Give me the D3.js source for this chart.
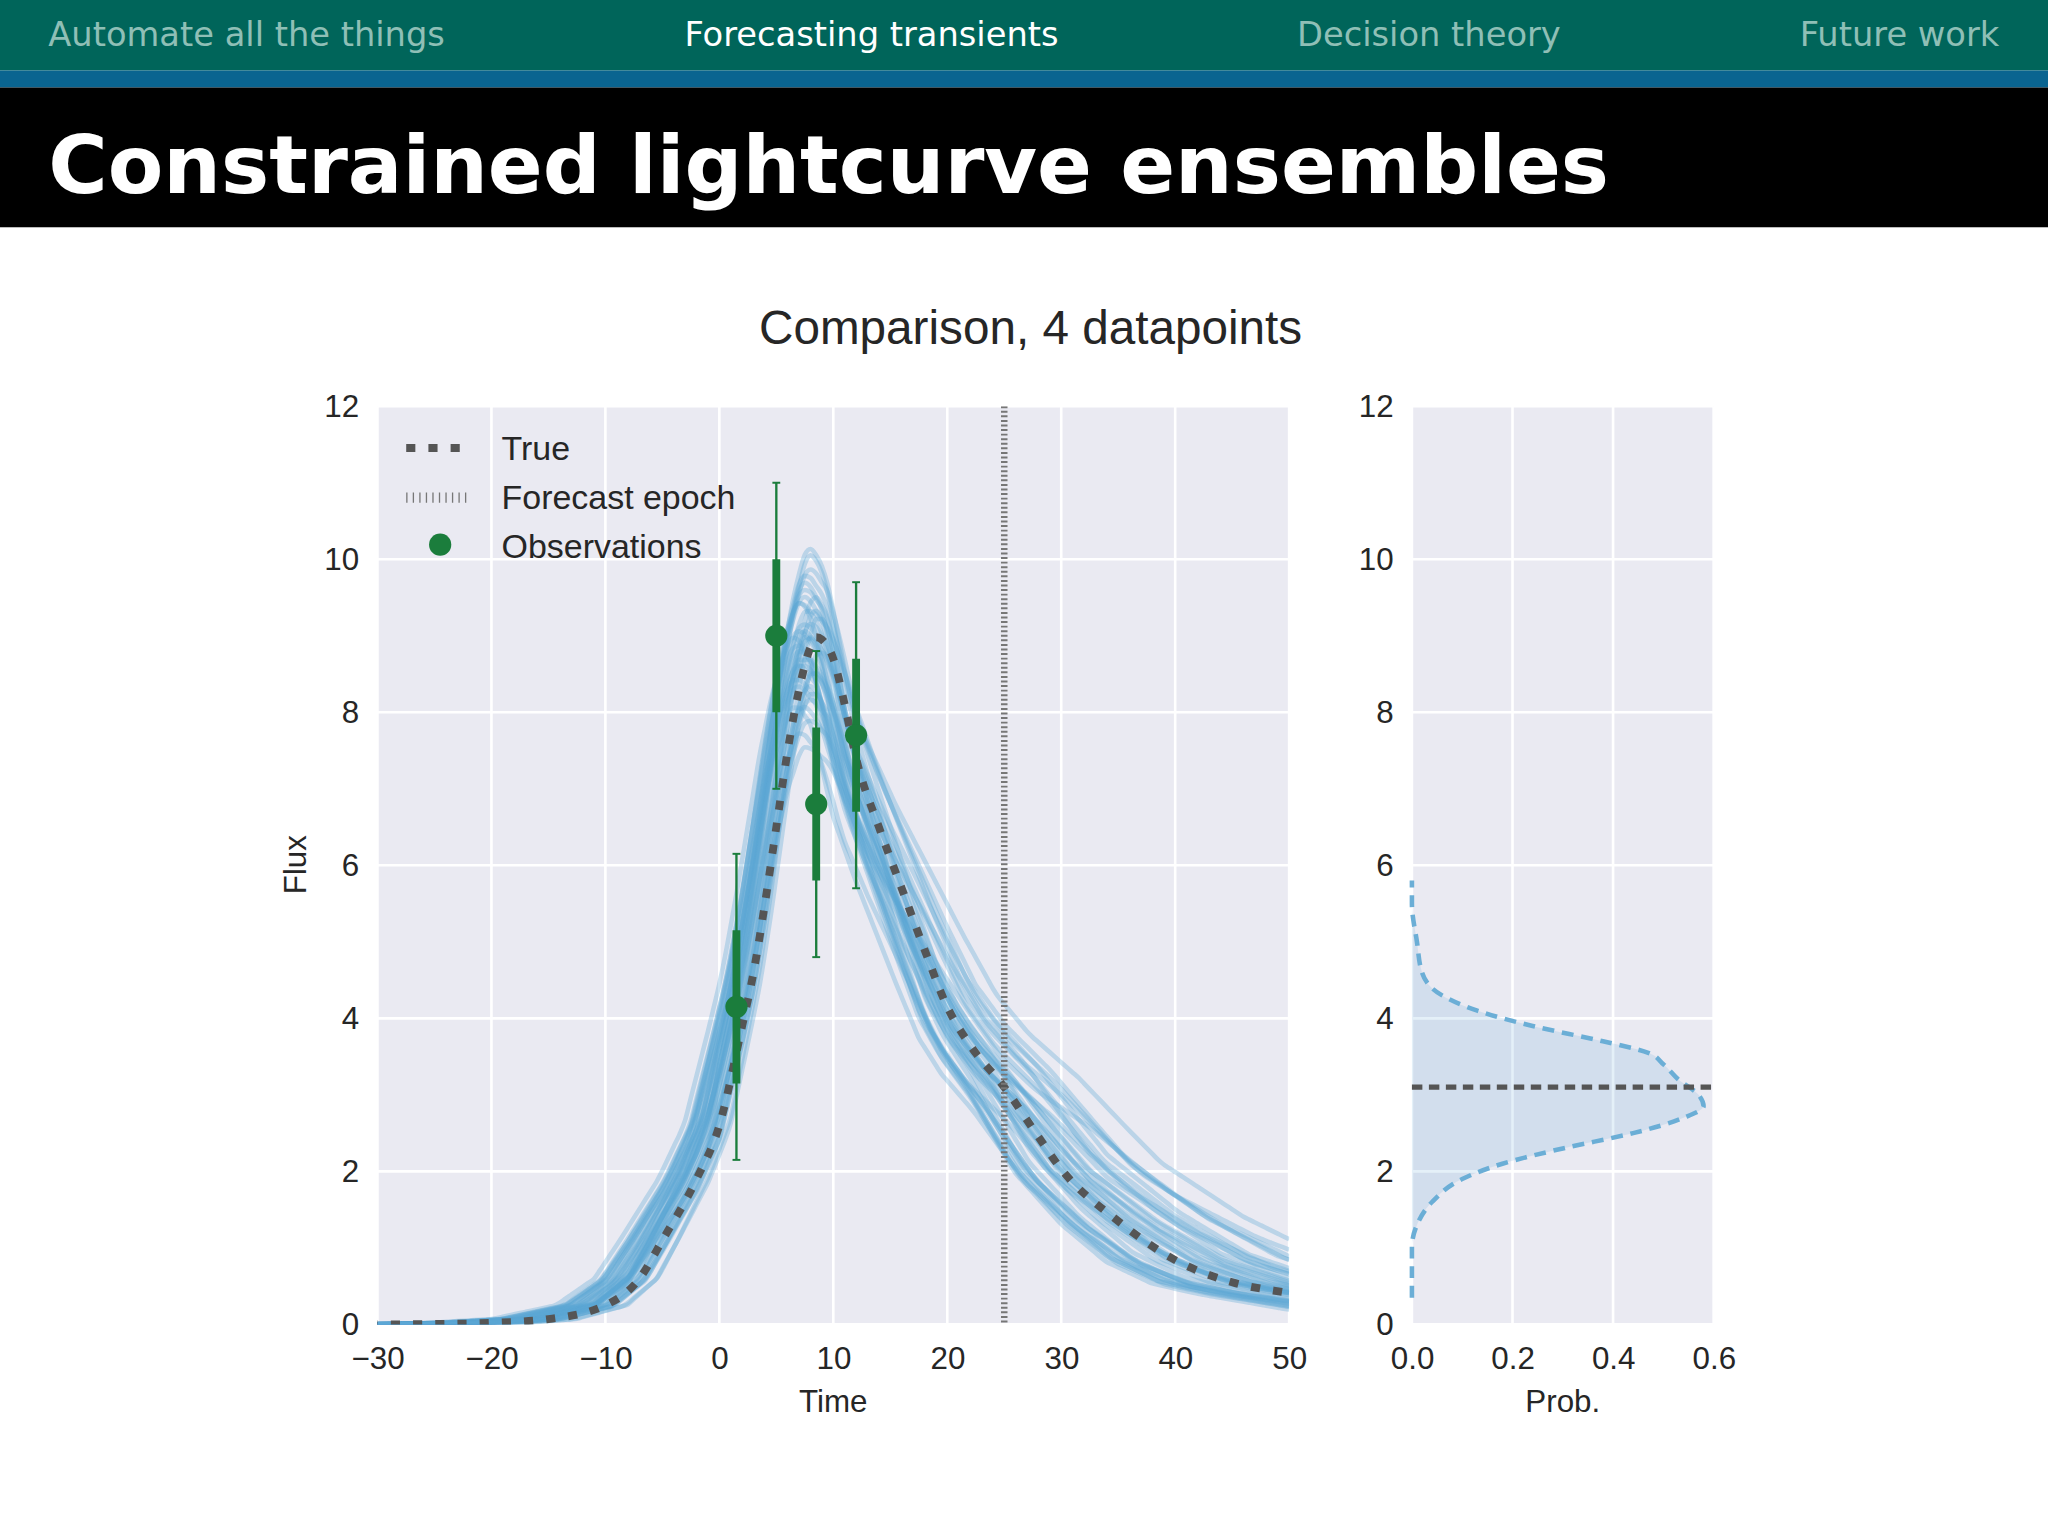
<!DOCTYPE html>
<html><head><meta charset="utf-8">
<script src="https://cdn.jsdelivr.net/npm/d3@7"></script>
<style>body{margin:0;background:#fff}svg{display:block}</style></head>
<body><svg id="c" width="2048" height="1536" viewBox="0 0 1568 1176"></svg>
<script>
const navItems = ["Automate all the things","Forecasting transients","Decision theory","Future work"];
const slideTitle = "Constrained lightcurve ensembles";
const chartTitle = "Comparison, 4 datapoints";
const xTicks = [-30,-20,-10,0,10,20,30,40,50];
const yTicks = [0,2,4,6,8,10,12];
const pTicks = [0.0,0.2,0.4,0.6];
// true lightcurve (extended tail estimated)
const trueT = [-60,-30,-25,-20,-15,-10,-7,-5,-2,0,2,3,4,5,6,7,8,8.5,9,10,11,12,14,16,18,20,22,25,28,30,35,40,45,50,60,75,100];
const trueF = [0,0,0.005,0.02,0.07,0.25,0.6,1.1,1.9,2.6,3.9,4.6,5.5,6.5,7.5,8.3,8.85,8.98,8.95,8.7,8.1,7.4,6.5,5.7,4.9,4.15,3.65,3.1,2.45,2.03,1.35,0.84,0.55,0.41,0.2,0.06,0.01];
// ensemble members: amplitude scale, time shift, rise stretch, decay stretch
const ensAmp   = [1.0,1.05,0.95,1.1,0.9,1.02,0.98,1.06,0.93,1.12,0.88,1.0,1.04,0.96,1.08,0.92,1.01,0.97,1.03,0.94,1.13,0.9,1.0,1.05,0.95,1.07,0.99,0.91,1.02,0.97,1.09,0.86,1.0,1.04,0.96,0.84,1.06,0.98,1.01,0.93];
const ensShift = [-1.0,-1.6,-0.4,-0.7,-1.9,-1.3,0.2,-1.2,-1.8,-0.6,-0.8,-2.1,-0.2,-1.4,-1.1,-0.4,-1.7,-0.9,0.1,-1.9,-0.7,-1.3,-0.8,-1.5,-0.3,-1.2,-1.8,-0.7,-0.6,-1.4,-1.1,-1.5,-0.5,-0.9,-1.7,-1.0,-0.2,-1.6,-1.2,-0.7];
const ensRise  = [1.0,1.05,0.95,1.0,1.1,0.98,0.92,1.03,1.08,0.97,1.02,1.12,0.94,1.06,1.0,0.96,1.09,1.01,0.9,1.1,0.99,1.04,1.0,1.07,0.95,1.02,1.1,0.98,0.97,1.05,1.0,1.06,0.96,1.01,1.08,1.03,0.97,1.05,0.99,1.02];
const ensDecay = [1.0,1.25,0.85,1.15,0.95,1.35,0.8,1.1,1.2,0.9,1.3,1.05,0.88,1.4,1.0,0.92,1.18,1.08,0.82,1.28,0.98,1.12,1.22,0.86,1.02,1.32,0.94,1.16,1.06,0.9,1.24,1.1,0.96,1.45,1.14,1.5,0.84,1.2,1.04,0.93];
// observations
const obsT = [1.5,5,8.5,12];
const obsF = [4.15,9.0,6.8,7.7];
const obsE1 = [1.0,1.0,1.0,1.0];
const obsE2 = [2.0,2.0,2.0,2.0];
const forecastEpoch = 25;
const forecastTrue = 3.1;
// forecast density
const densF = [0.35,1.0,1.3,1.6,1.9,2.1,2.3,2.5,2.7,2.85,3.0,3.2,3.4,3.55,3.7,3.9,4.1,4.3,4.6,5.0,5.5,5.8];
const densP = [0.0,0.0,0.01,0.04,0.1,0.18,0.3,0.44,0.54,0.58,0.57,0.53,0.5,0.47,0.38,0.24,0.13,0.06,0.02,0.01,0.0,0.0];

const svg = d3.select("#c");
const W=1568;
svg.append("rect").attr("width",W).attr("height",54).attr("fill","#00655a");
svg.append("rect").attr("y",54).attr("width",W).attr("height",13).attr("fill","#0a6490");
svg.append("rect").attr("y",67).attr("width",W).attr("height",107).attr("fill","#000");
const navX=[37,524,993,1378];
navItems.forEach((t,i)=>svg.append("text").attr("x",navX[i]).attr("y",35).text(t)
  .attr("font-family","DejaVu Sans").attr("font-size",25.8).attr("fill",i==1?"#fff":"#8fbfb6"));
svg.append("text").attr("x",37).attr("y",148).text(slideTitle).attr("font-family","DejaVu Sans")
  .attr("font-weight","bold").attr("font-size",62).attr("fill","#fff");

const F="Liberation Sans, Arial, sans-serif", txt="#262626";
svg.append("text").attr("x",789).attr("y",263).attr("text-anchor","middle").text(chartTitle)
  .attr("font-family",F).attr("font-size",36.5).attr("fill",txt);

const x=d3.scaleLinear().domain([-30,50]).range([289,987]);
const y=d3.scaleLinear().domain([0,12]).range([1014,311]);
const px=d3.scaleLinear().domain([0,0.6]).range([1081,1312]);

function panel(xs,ticks,fmt,label){
  svg.append("rect").attr("x",xs.range()[0]).attr("y",311).attr("width",xs.range()[1]-xs.range()[0]).attr("height",703).attr("fill","#eaeaf2");
  const g=svg.append("g");
  ticks.forEach(t=>g.append("line").attr("x1",xs(t)).attr("x2",xs(t)).attr("y1",311).attr("y2",1014).attr("stroke","#fff").attr("stroke-width",2));
  yTicks.forEach(t=>g.append("line").attr("x1",xs.range()[0]).attr("x2",xs.range()[1]).attr("y1",y(t)).attr("y2",y(t)).attr("stroke","#fff").attr("stroke-width",2));
  const ax=svg.append("g").attr("transform","translate(0,1014)").call(d3.axisBottom(xs).tickValues(ticks).tickFormat(fmt).tickSize(0).tickPadding(17));
  const ay=svg.append("g").attr("transform",`translate(${xs.range()[0]},0)`).call(d3.axisLeft(y).tickValues(yTicks).tickSize(0).tickPadding(14));
  [ax,ay].forEach(a=>{a.select(".domain").remove();a.selectAll("text").attr("font-family",F).attr("font-size",24).attr("fill",txt);});
  svg.append("text").attr("x",(xs.range()[0]+xs.range()[1])/2).attr("y",1081).attr("text-anchor","middle").text(label).attr("font-family",F).attr("font-size",24).attr("fill",txt);
}
panel(x,xTicks,d=>d<0?"\u2212"+Math.abs(d):d,"Time");
panel(px,pTicks,d3.format(".1f"),"Prob.");
svg.append("text").attr("transform","translate(234,662) rotate(-90)").attr("text-anchor","middle").text("Flux").attr("font-family",F).attr("font-size",24).attr("fill",txt);

svg.append("clipPath").attr("id","cl").append("rect").attr("x",289).attr("y",311).attr("width",698).attr("height",703);
const plot=svg.append("g").attr("clip-path","url(#cl)");
const peakT=8.5;
const interp=d3.scaleLinear().domain(trueT).range(trueF).clamp(true);
const ts=d3.range(-30,50.01,0.5);
const line=d3.line().x(d=>x(d[0])).y(d=>y(d[1])).curve(d3.curveMonotoneX);
ensAmp.forEach((a,i)=>{
  const pts=ts.map(t=>{
    const tp=peakT+ensShift[i];
    const u=t<tp? peakT+(t-tp)/ensRise[i] : peakT+(t-tp)/ensDecay[i];
    return [t,a*interp(u)];
  });
  plot.append("path").attr("d",line(pts)).attr("fill","none").attr("stroke","#5aa7d6").attr("stroke-opacity",0.33).attr("stroke-width",3.5);
});
plot.append("path").attr("d",line(trueT.map((t,i)=>[t,trueF[i]]))).attr("fill","none").attr("stroke","#555")
  .attr("stroke-width",6).attr("stroke-dasharray","7,10");
plot.append("line").attr("x1",x(forecastEpoch)).attr("x2",x(forecastEpoch)).attr("y1",311).attr("y2",1014)
  .attr("stroke","#777").attr("stroke-width",5).attr("stroke-dasharray","1.5,2");
const green="#1b7d3c";
obsT.forEach((t,i)=>{
  plot.append("line").attr("x1",x(t)).attr("x2",x(t)).attr("y1",y(obsF[i]-obsE2[i])).attr("y2",y(obsF[i]+obsE2[i])).attr("stroke",green).attr("stroke-width",1.8);
  [obsF[i]-obsE2[i],obsF[i]+obsE2[i]].forEach(v=>plot.append("line").attr("x1",x(t)-3).attr("x2",x(t)+3).attr("y1",y(v)).attr("y2",y(v)).attr("stroke",green).attr("stroke-width",1.5));
  plot.append("line").attr("x1",x(t)).attr("x2",x(t)).attr("y1",y(obsF[i]-obsE1[i])).attr("y2",y(obsF[i]+obsE1[i])).attr("stroke",green).attr("stroke-width",6);
  plot.append("circle").attr("cx",x(t)).attr("cy",y(obsF[i])).attr("r",8.5).attr("fill",green);
});
// legend
const lg=svg.append("g");
lg.append("line").attr("x1",311).attr("x2",358).attr("y1",343).attr("y2",343).attr("stroke","#555").attr("stroke-width",6).attr("stroke-dasharray","7,10");
lg.append("line").attr("x1",311).attr("x2",360).attr("y1",381).attr("y2",381).attr("stroke","#777").attr("stroke-width",8).attr("stroke-dasharray","1,4");
lg.append("circle").attr("cx",337).attr("cy",417).attr("r",8.5).attr("fill",green);
["True","Forecast epoch","Observations"].forEach((t,i)=>lg.append("text").attr("x",384).attr("y",352+i*37.5).text(t).attr("font-family",F).attr("font-size",26).attr("fill",txt));
// density
const area=d3.area().y(d=>y(d[0])).x0(px(0)).x1(d=>px(d[1])).curve(d3.curveMonotoneY);
const dd=densF.map((f,i)=>[f,densP[i]]);
svg.append("path").attr("d",area(dd)).attr("fill","#6baed6").attr("fill-opacity",0.18);
svg.append("path").attr("d",d3.line().y(d=>y(d[0])).x(d=>px(d[1])).curve(d3.curveMonotoneY)(dd)).attr("fill","none").attr("stroke","#6baed6").attr("stroke-width",3.5).attr("stroke-dasharray","9,6");
svg.append("line").attr("x1",px(0)).attr("x2",px(0.6)).attr("y1",y(forecastTrue)).attr("y2",y(forecastTrue)).attr("stroke","#555").attr("stroke-width",4).attr("stroke-dasharray","8,5");
</script></body></html>
